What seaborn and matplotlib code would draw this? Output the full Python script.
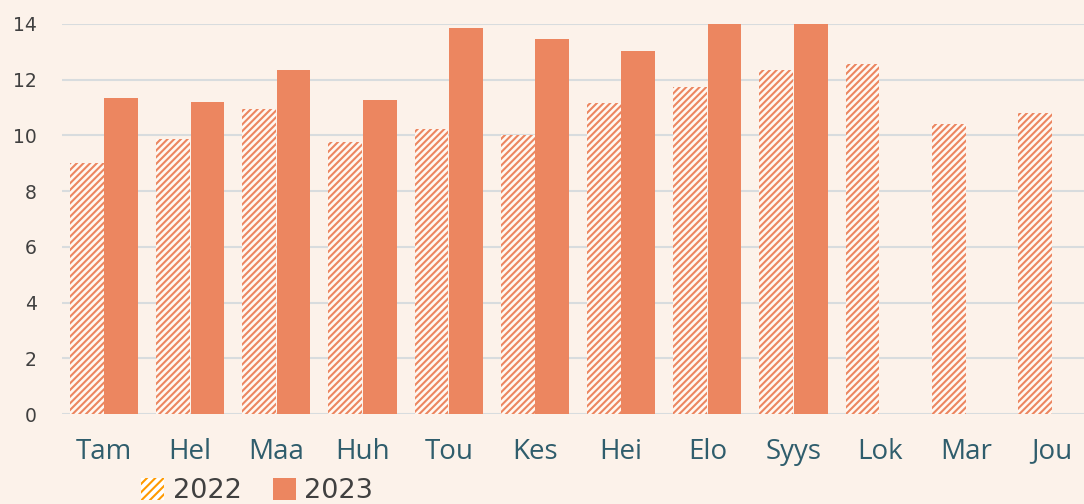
import matplotlib
matplotlib.use("Agg")
import matplotlib.pyplot as plt
import seaborn as sns
import pandas as pd
from matplotlib.patches import Patch

months = ["Tam", "Hel", "Maa", "Huh", "Tou", "Kes", "Hei", "Elo", "Syys", "Lok", "Mar", "Jou"]
values_2022 = [9.0, 9.87, 10.95, 9.76, 10.23, 10.01, 11.15, 11.74, 12.35, 12.56, 10.41, 10.8]
values_2023 = [11.34, 11.2, 12.35, 11.28, 13.86, 13.46, 13.02, 14.3, 14.3, None, None, None]
series = ["2022", "2023"]
y_ticks = [0, 2, 4, 6, 8, 10, 12, 14]

bg = "#FCF2EA"
bar_color = "#EC8660"
grid_color = "#D8DCDE"

sns.set_theme(style="white")
plt.rcParams["hatch.linewidth"] = 1.5
plt.rcParams["font.family"] = ["Open Sans", "DejaVu Sans"]

rows = []
for m, v in zip(months, values_2022):
    rows.append({"month": m, "year": series[0], "value": v})
for m, v in zip(months, values_2023):
    rows.append({"month": m, "year": series[1], "value": v})
df = pd.DataFrame(rows)

fig = plt.figure(figsize=(10.84, 5.04), dpi=100, facecolor=bg)
ax = fig.add_axes([62 / 1084, 1 - 414 / 504, 1 - 62 / 1084, (414 - 24) / 504])
ax.set_facecolor(bg)

sns.barplot(data=df, x="month", y="value", hue="year", order=months,
            hue_order=series, palette=[bar_color, bar_color], width=0.8,
            gap=0.02, ax=ax, legend=False, linewidth=0, saturation=1)

n = len(months)
patches = ax.patches
for p in patches[:n]:
    p.set_facecolor("#FFF8F2")
    p.set_edgecolor(bar_color)
    p.set_hatch("/////")
    p.set_linewidth(0)

ax.set_ylim(0, 14)
ax.set_xlim(-0.487, 11.37)
ax.set_yticks(y_ticks)
ax.yaxis.grid(True, color=grid_color, linewidth=1.5)
ax.set_axisbelow(True)
for s in ax.spines.values():
    s.set_visible(False)
ax.tick_params(axis="y", length=0, pad=18, labelsize=13.5, labelcolor="#404040")
ax.tick_params(axis="x", length=0, pad=17, labelsize=20, labelcolor="#2F5D6C")
for lab in ax.get_yticklabels():
    lab.set_fontfamily(["DejaVu Sans"])
ax.set_xlabel("")
ax.set_ylabel("")

handles = [
    Patch(facecolor="white", edgecolor="#FF9A00", hatch="////", linewidth=0, label=series[0]),
    Patch(facecolor=bar_color, edgecolor=bar_color, linewidth=0, label=series[1]),
]
leg = fig.legend(handles=handles, loc="center", bbox_to_anchor=(257 / 1084, 1 - 491 / 504),
                 ncol=2, frameon=False, fontsize=19.5, handlelength=0.85, handleheight=0.85,
                 handletextpad=0.3, columnspacing=1.15)
for t in leg.get_texts():
    t.set_color("#404040")
    t.set_fontfamily(["DejaVu Sans"])

fig.savefig("out.png", dpi=100, facecolor=bg)
